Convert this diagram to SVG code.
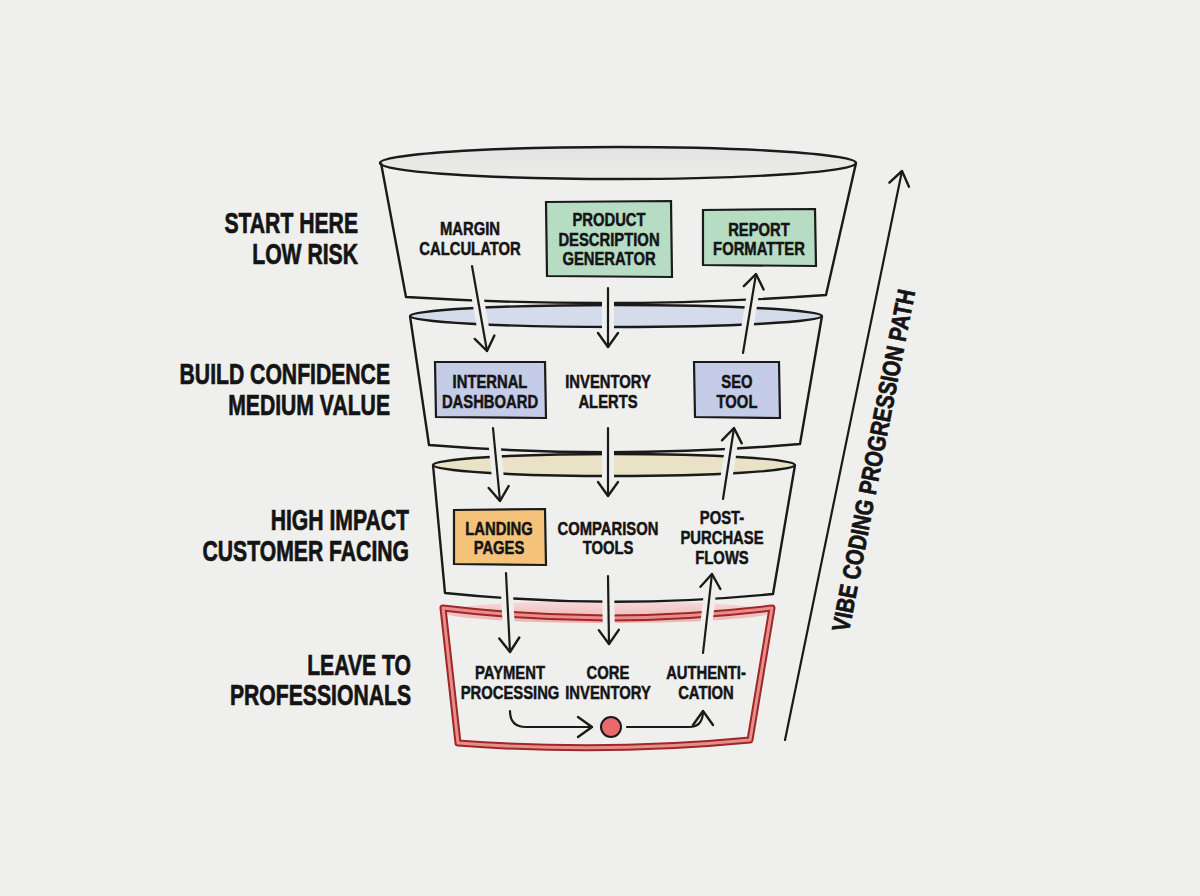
<svg xmlns="http://www.w3.org/2000/svg" width="1200" height="896" viewBox="0 0 1200 896">
  <defs>
    <marker id="ah" viewBox="0 0 18 24" refX="16" refY="12" markerWidth="18" markerHeight="24" markerUnits="userSpaceOnUse" orient="auto">
      <path d="M2,2 L16,12 L2,22" fill="none" stroke="#1a1a1a" stroke-width="2.4" stroke-linecap="round" stroke-linejoin="round"/>
    </marker>
    <linearGradient id="gTop" x1="0" y1="0" x2="0" y2="1">
      <stop offset="0" stop-color="#e3e3e3"/>
      <stop offset="1" stop-color="#ececeb"/>
    </linearGradient>
    <linearGradient id="gRed" x1="0" y1="0" x2="0" y2="1">
      <stop offset="0" stop-color="#f6dada"/>
      <stop offset="1" stop-color="#eeb0b0"/>
    </linearGradient>
    <style>
      .t { font-family: 'Liberation Sans', Arial, sans-serif; font-weight: bold; fill: #141414; stroke: #141414; stroke-width: 0.5; text-anchor: middle; }
      .n { font-size: 18.5px; }
      .side { font-size: 29px; text-anchor: end; stroke-width: 0.7; }
      .path { font-size: 25px; stroke-width: 0.7; }
      .rim { stroke: #1a1a1a; stroke-width: 2.4; }
      .body { fill: none; stroke: #1a1a1a; stroke-width: 2.4; stroke-linejoin: round; }
      .box { stroke: #1a1a1a; stroke-width: 2.2; }
      .halo { fill: none; stroke: #efefed; stroke-width: 12; }
      .con { fill: none; stroke: #1a1a1a; stroke-width: 2.2; stroke-linecap: round; marker-end: url(#ah); }
    </style>
  </defs>
  <rect x="0" y="0" width="1200" height="896" fill="#efefed"/>

  <!-- Tier 4: leave to professionals -->
  <g id="tier4">
    <ellipse cx="607" cy="612" rx="164" ry="11" fill="url(#gRed)"/>
    <path d="M443,608 Q607,628 772,608 L750,740 Q604,754 458,743 Z" fill="none" stroke="#9c2828" stroke-width="7" stroke-linejoin="round"/>
    <path d="M443,608 Q607,628 772,608 L750,740 Q604,754 458,743 Z" fill="none" stroke="#e88c8c" stroke-width="3" stroke-linejoin="round"/>
  </g>
  <!-- Tier 3 -->
  <g id="tier3">
    <ellipse cx="614" cy="465" rx="181" ry="11" fill="#e9e2c6" class="rim"/>
    <path class="body" d="M433,465 L445,593 Q610,610 773,594 L795,465"/>
  </g>
  <!-- Tier 2 -->
  <g id="tier2">
    <ellipse cx="616" cy="316" rx="206" ry="11" fill="#d4dbea" class="rim"/>
    <path class="body" d="M410,316 L429,445 Q615,460 800,444 L822,316"/>
  </g>
  <!-- Tier 1 -->
  <g id="tier1">
    <ellipse cx="618" cy="163" rx="238" ry="16" fill="url(#gTop)" class="rim"/>
    <path class="body" d="M381,163 L406,297 Q617,310 826,295 L856,163"/>
  </g>

  <!-- connectors -->
  <g id="connectors">
    <g id="halos">
      <path class="halo" d="M472,266 L487,350"/>
      <path class="halo" d="M608,288 L608,346"/>
      <path class="halo" d="M743,353 L756,276"/>
      <path class="halo" d="M493,428 L500,500"/>
      <path class="halo" d="M608,428 L608,495"/>
      <path class="halo" d="M723,499 L734,430"/>
      <path class="halo" d="M506,573 L510,651"/>
      <path class="halo" d="M608,576 L609,643"/>
      <path class="halo" d="M703,653 L712,575"/>
    </g>
    <path class="con" d="M472,266 L487,351"/>
    <path class="con" d="M608,288 L608,347"/>
    <path class="con" d="M743,353 L756,274"/>
    <path class="con" d="M493,428 L500,501"/>
    <path class="con" d="M608,428 L608,496"/>
    <path class="con" d="M723,499 L734,428"/>
    <path class="con" d="M506,573 L510,652"/>
    <path class="con" d="M608,576 L609,644"/>
    <path class="con" d="M703,653 L712,574"/>
    <path class="con" d="M510,711 Q510,727 526,727 L592,727"/>
    <path class="con" d="M627,727 L689,727 Q703,727 703,711"/>
    <path class="con" d="M785,740 L902,171"/>
  </g>

  <!-- left labels -->
  <g id="labels">
    <text class="t side" transform="translate(358,0) scale(0.73,1)"><tspan x="0" y="233">START HERE</tspan><tspan x="0" y="264">LOW RISK</tspan></text>
    <text class="t side" transform="translate(390,0) scale(0.73,1)"><tspan x="0" y="384">BUILD CONFIDENCE</tspan><tspan x="0" y="415">MEDIUM VALUE</tspan></text>
    <text class="t side" transform="translate(409,0) scale(0.73,1)"><tspan x="0" y="530">HIGH IMPACT</tspan><tspan x="0" y="561">CUSTOMER FACING</tspan></text>
    <text class="t side" transform="translate(411,0) scale(0.73,1)"><tspan x="0" y="675">LEAVE TO</tspan><tspan x="0" y="705">PROFESSIONALS</tspan></text>
  </g>

  <g id="progression-label">
    <text class="t path" transform="translate(882,462) rotate(-79) scale(0.81,1)">VIBE CODING PROGRESSION PATH</text>
  </g>

  <!-- tier 1 nodes -->
  <g id="margin-calculator">
    <text class="t n" transform="translate(470,0) scale(0.8,1)"><tspan x="0" y="235">MARGIN</tspan><tspan x="0" y="255">CALCULATOR</tspan></text>
  </g>
  <g id="product-description-generator">
    <path class="box" fill="#b7dcc4" d="M546,202 L671,201 L672,277 L547,276 Z"/>
    <text class="t n" transform="translate(609,0) scale(0.8,1)"><tspan x="0" y="226">PRODUCT</tspan><tspan x="0" y="246">DESCRIPTION</tspan><tspan x="0" y="265">GENERATOR</tspan></text>
  </g>
  <g id="report-formatter">
    <path class="box" fill="#b7dcc4" d="M703,210 L815,209 L816,266 L703,265 Z"/>
    <text class="t n" transform="translate(759,0) scale(0.8,1)"><tspan x="0" y="236">REPORT</tspan><tspan x="0" y="255">FORMATTER</tspan></text>
  </g>

  <!-- tier 2 nodes -->
  <g id="internal-dashboard">
    <path class="box" fill="#c4cce8" d="M435,362 L545,362 L546,418 L436,417 Z"/>
    <text class="t n" transform="translate(490,0) scale(0.8,1)"><tspan x="0" y="388">INTERNAL</tspan><tspan x="0" y="408">DASHBOARD</tspan></text>
  </g>
  <g id="inventory-alerts">
    <text class="t n" transform="translate(608,0) scale(0.8,1)"><tspan x="0" y="388">INVENTORY</tspan><tspan x="0" y="408">ALERTS</tspan></text>
  </g>
  <g id="seo-tool">
    <path class="box" fill="#c4cce8" d="M694,362 L779,362 L780,418 L695,417 Z"/>
    <text class="t n" transform="translate(737,0) scale(0.8,1)"><tspan x="0" y="388">SEO</tspan><tspan x="0" y="408">TOOL</tspan></text>
  </g>

  <!-- tier 3 nodes -->
  <g id="landing-pages">
    <path class="box" fill="#f5c27a" d="M454,510 L545,509 L546,565 L454,564 Z"/>
    <text class="t n" transform="translate(499,0) scale(0.8,1)"><tspan x="0" y="535">LANDING</tspan><tspan x="0" y="554">PAGES</tspan></text>
  </g>
  <g id="comparison-tools">
    <text class="t n" transform="translate(608,0) scale(0.8,1)"><tspan x="0" y="535">COMPARISON</tspan><tspan x="0" y="554">TOOLS</tspan></text>
  </g>
  <g id="post-purchase-flows">
    <text class="t n" transform="translate(722,0) scale(0.8,1)"><tspan x="0" y="524">POST-</tspan><tspan x="0" y="544">PURCHASE</tspan><tspan x="0" y="564">FLOWS</tspan></text>
  </g>

  <!-- tier 4 nodes -->
  <g id="payment-processing">
    <text class="t n" transform="translate(510,0) scale(0.8,1)"><tspan x="0" y="679">PAYMENT</tspan><tspan x="0" y="699">PROCESSING</tspan></text>
  </g>
  <g id="core-inventory">
    <text class="t n" transform="translate(608,0) scale(0.8,1)"><tspan x="0" y="679">CORE</tspan><tspan x="0" y="699">INVENTORY</tspan></text>
  </g>
  <g id="authentication">
    <text class="t n" transform="translate(706,0) scale(0.8,1)"><tspan x="0" y="679">AUTHENTI-</tspan><tspan x="0" y="699">CATION</tspan></text>
  </g>
  <g id="core-dot">
    <circle cx="611" cy="727" r="10" fill="#e86a6a" stroke="#1a1a1a" stroke-width="2"/>
  </g>
</svg>
